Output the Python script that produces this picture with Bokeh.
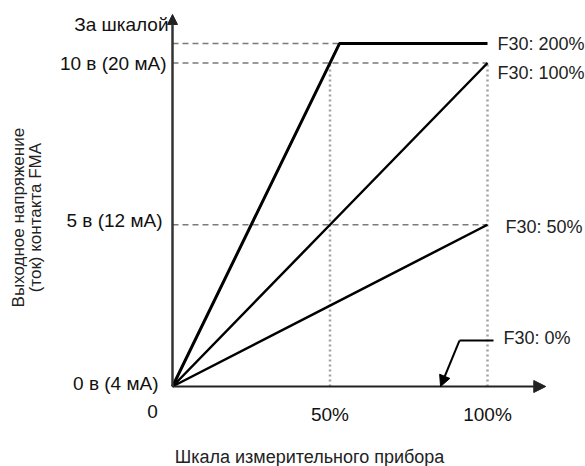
import math
from bokeh.plotting import figure
from bokeh.models import Range1d, Arrow, NormalHead, ColumnDataSource
from bokeh.core.properties import value
from bokeh.embed import file_html
from bokeh.resources import INLINE

# ---- data -------------------------------------------------------------
meter_pct = [0, 50, 100]               # meter scale, %
out_f30_100 = [0, 5, 10]               # F30: 100%  (V)
out_f30_50 = [0, 2.5, 5]               # F30: 50%   (V)
sat_level = 10.6                       # output limit ("За шкалой")
f30_200_x = [0, 53, 100]
f30_200_y = [0, sat_level, sat_level]  # F30: 200%  (V), saturates
f30_0_y = [0, 0, 0]                    # F30: 0%

y_tick_vals = [0, 5, 10]
y_tick_labels = ["0 в (4 мА)", "5 в (12 мА)", "10 в (20 мА)"]
y_top_label = "За шкалой"
x_tick_vals = [0, 50, 100]
x_tick_labels = ["0", "50%", "100%"]
series_labels = ["F30: 200%", "F30: 100%", "F30: 50%", "F30: 0%"]
y_title = ["Выходное напряжение", "(ток) контакта FMA"]
x_title = "Шкала измерительного прибора"

# ---- geometry (pixel mapping) -----------------------------------------
W, H = 585, 466
X0, XS = 172.0, 3.15     # canvas x of 0 %, px per %
Y0, YS = 386.0, 32.35    # canvas y of 0 V, px per V
x_range = Range1d(-X0 / XS, (W - X0) / XS)
y_range = Range1d((Y0 - H) / YS, Y0 / YS)

p = figure(width=W, height=H, x_range=x_range, y_range=y_range,
           x_axis_type=None, y_axis_type=None, toolbar_location=None,
           output_backend="svg", min_border=0)
p.grid.visible = False
p.outline_line_color = None
p.background_fill_color = "white"
p.border_fill_color = "white"

FONT = value("Liberation Sans")
GRAY_D = "#7a7a7a"
GRAY_V = "#a0a0a0"

# reference dashed lines
p.line([0, 100], [10, 10], line_color=GRAY_D, line_width=1.5, line_dash="6 4")
p.line([0, 100], [5, 5], line_color=GRAY_D, line_width=1.5, line_dash="6 4")
p.line([0, f30_200_x[1]], [sat_level, sat_level], line_color=GRAY_D,
       line_width=1.5, line_dash="6 4")
# vertical dotted lines
for xv in x_tick_vals[1:]:
    p.line([xv, xv], [0, 10], line_color=GRAY_V, line_width=2.5, line_dash="2 3")

# axes with arrows
x_end = 118.5
y_end = 11.5
p.add_layout(Arrow(x_start=0, y_start=0, x_end=x_end, y_end=0,
                   line_color="#222222", line_width=2,
                   end=NormalHead(size=12, fill_color="#222222", line_color="#222222")))
p.add_layout(Arrow(x_start=0, y_start=0, x_end=0, y_end=y_end,
                   line_color="#333333", line_width=2.5,
                   end=NormalHead(size=10, fill_color="#222222", line_color="#222222")))

# series lines
p.line(meter_pct, out_f30_100, line_color="black", line_width=2.5)
p.line(meter_pct, out_f30_50, line_color="black", line_width=2.5)
p.line(f30_200_x, f30_200_y, line_color="black", line_width=3)

# F30: 0% leader
lead_y = 1.42
lead_x0, lead_x1 = 91.1, 101.9
tip_x = 85.1
p.line([lead_x0, lead_x1], [lead_y, lead_y], line_color="black", line_width=2)
p.add_layout(Arrow(x_start=lead_x0, y_start=lead_y, x_end=tip_x, y_end=f30_0_y[0],
                   line_color="black", line_width=2,
                   end=NormalHead(size=11, fill_color="black", line_color="black")))

# y tick labels
ysrc = ColumnDataSource(dict(x=[0, 0, 0], y=y_tick_vals, t=y_tick_labels,
                             dx=[-14, -10, -6], dy=[-3, -4, 0]))
p.text(x="x", y="y", text="t", x_offset="dx", y_offset="dy", source=ysrc,
       text_font=FONT, text_font_size="19px", text_color="#111111",
       text_align="right", text_baseline="middle")
p.text(x=[0], y=[y_end], text=[y_top_label], x_offset=-4, y_offset=10,
       text_font=FONT, text_font_size="19px", text_color="#111111",
       text_align="right", text_baseline="middle")

# x tick labels
xsrc = ColumnDataSource(dict(x=x_tick_vals, y=[0, 0, 0], t=x_tick_labels,
                             dx=[-20, 0, 0], dy=[25, 28, 28]))
p.text(x="x", y="y", text="t", x_offset="dx", y_offset="dy", source=xsrc,
       text_font=FONT, text_font_size="19px", text_color="#111111",
       text_align="center", text_baseline="middle")

# series labels
lsrc = ColumnDataSource(dict(x=[100, 100, 100, 100],
                             y=[sat_level, 10, 5, lead_y],
                             t=series_labels,
                             dx=[10, 10, 18, 16], dy=[0, 9.5, 2, -3]))
p.text(x="x", y="y", text="t", x_offset="dx", y_offset="dy", source=lsrc,
       text_font=FONT, text_font_size="18px", text_color="#222222",
       text_align="left", text_baseline="middle")

# axis titles
p.text(x=[-48.9, -43.5], y=[5.22, 5.22], text=y_title, angle=math.pi / 2,
       text_font=FONT, text_font_size="17px", text_color="#222222",
       text_align="center", text_baseline="middle")
p.text(x=[43.5], y=[-2.164], text=[x_title],
       text_font=FONT, text_font_size="18px", text_color="#222222",
       text_align="center", text_baseline="middle")

open("out.html", "w").write(file_html(p, INLINE))
